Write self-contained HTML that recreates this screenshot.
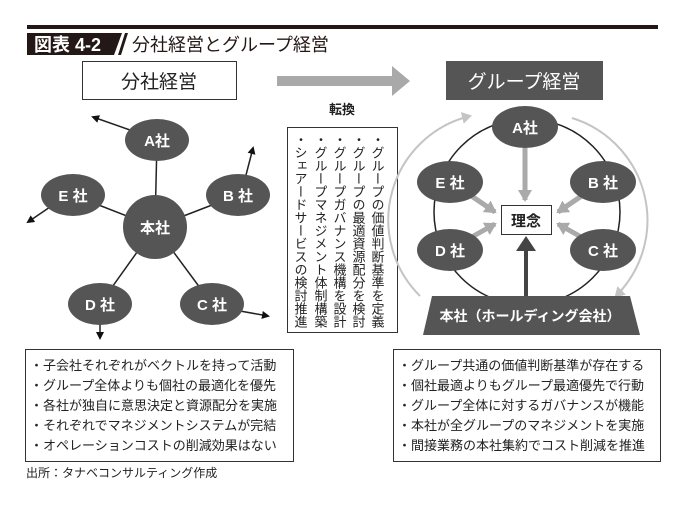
<!DOCTYPE html>
<html><head><meta charset="utf-8"><style>
html,body{margin:0;padding:0;background:#fff}
svg{display:block}
text{font-family:"Liberation Sans","Noto Sans CJK JP",sans-serif}
</style></head><body>
<svg width="685" height="506" viewBox="0 0 685 506" xmlns="http://www.w3.org/2000/svg">
<defs>
<marker id="ab" markerWidth="8" markerHeight="8" refX="6" refY="4" orient="auto" markerUnits="userSpaceOnUse"><path d="M0,0 L8,4 L0,8 Z" fill="#111"/></marker>
<marker id="ag" markerWidth="14" markerHeight="14" refX="10" refY="7" orient="auto" markerUnits="userSpaceOnUse"><path d="M0,0 L12,7 L0,14 Z" fill="#aaa"/></marker>
<marker id="agl" markerWidth="12" markerHeight="12" refX="8" refY="6" orient="auto" markerUnits="userSpaceOnUse"><path d="M0,0 L10,6 L0,12 Z" fill="#c4c4c4"/></marker>
</defs>
<rect x="27" y="25" width="631" height="4" fill="#231815"/>
<path d="M27,33 H122 L114,55 H27 Z" fill="#231815"/>
<text x="34" y="51" font-size="18" font-weight="bold" fill="#fff">図表 4-2</text>
<path d="M118,55 L125,33 H128 L121,55 Z" fill="#231815"/>
<text x="132" y="51" font-size="18" fill="#231815">分社経営とグループ経営</text>
<rect x="82.5" y="61.5" width="154" height="38" fill="#fff" stroke="#333"/>
<text x="159" y="88" font-size="19" text-anchor="middle" fill="#222">分社経営</text>
<rect x="446" y="61" width="157" height="39" fill="#555"/>
<text x="524" y="88" font-size="19" text-anchor="middle" fill="#fff">グループ経営</text>
<path d="M277,76 H392 V66 L410,81 L392,96 V86 H277 Z" fill="#a9a9a9"/>
<text x="342" y="114" font-size="13" font-weight="bold" text-anchor="middle" fill="#222">転換</text>
<rect x="287.5" y="127.5" width="110" height="205" fill="#fff" stroke="#333"/>
<g font-size="13" fill="#222" style="writing-mode:vertical-rl">
<text x="377" y="133">・グループの価値判断基準を定義</text>
<text x="358" y="133">・グループの最適資源配分を検討</text>
<text x="339" y="133">・グループガバナンス機構を設計</text>
<text x="320" y="133">・グループマネジメント体制構築</text>
<text x="300" y="133">・シェアードサービスの検討推進</text>
</g>
<g stroke="#222" stroke-width="1.5">
<line x1="155" y1="227" x2="157" y2="140"/>
<line x1="155" y1="227" x2="238" y2="195"/>
<line x1="155" y1="227" x2="73" y2="195"/>
<line x1="155" y1="227" x2="100" y2="304"/>
<line x1="155" y1="227" x2="212" y2="304"/>
<line x1="130" y1="130" x2="93" y2="117" marker-end="url(#ab)"/>
<line x1="246" y1="175" x2="253" y2="148" marker-end="url(#ab)"/>
<line x1="50" y1="207" x2="28" y2="222" marker-end="url(#ab)"/>
<line x1="100" y1="322" x2="100" y2="338" marker-end="url(#ab)"/>
<line x1="240" y1="311" x2="268" y2="316" marker-end="url(#ab)"/>
</g>
<g fill="#555">
<ellipse cx="157" cy="140" rx="32" ry="21"/>
<ellipse cx="238" cy="195" rx="32" ry="21"/>
<ellipse cx="73" cy="195" rx="32" ry="21"/>
<ellipse cx="100" cy="304" rx="32" ry="21"/>
<ellipse cx="212" cy="304" rx="32" ry="21"/>
<circle cx="155" cy="227" r="32"/>
</g>
<g font-size="15" font-weight="bold" fill="#fff" text-anchor="middle">
<text x="157" y="146">A社</text>
<text x="238" y="201">B 社</text>
<text x="73" y="201">E 社</text>
<text x="100" y="310">D 社</text>
<text x="212" y="310">C 社</text>
<text x="155" y="233">本社</text>
</g>
<path d="M420,296 A107,107 0 0 1 470,116" fill="none" stroke="#c4c4c4" stroke-width="2" marker-end="url(#agl)"/>
<path d="M572,118 A107,107 0 0 1 616,296" fill="none" stroke="#c4c4c4" stroke-width="2" marker-end="url(#agl)"/>
<circle cx="527" cy="212" r="93" fill="none" stroke="#222" stroke-width="1.5"/>
<g stroke="#aaa" stroke-width="5">
<line x1="525" y1="148" x2="525" y2="200" marker-end="url(#ag)"/>
<line x1="470" y1="195" x2="495" y2="212" marker-end="url(#ag)"/>
<line x1="583" y1="195" x2="558" y2="212" marker-end="url(#ag)"/>
<line x1="470" y1="238" x2="495" y2="224" marker-end="url(#ag)"/>
<line x1="583" y1="238" x2="558" y2="224" marker-end="url(#ag)"/>
</g>
<line x1="526" y1="300" x2="526" y2="250" stroke="#444" stroke-width="4"/>
<path d="M516,251 L526,236 L536,251 Z" fill="#444"/>
<rect x="501.5" y="205.5" width="50" height="29" fill="#fff" stroke="#333"/>
<text x="526" y="226" font-size="15" font-weight="bold" text-anchor="middle" fill="#222">理念</text>
<g fill="#555">
<ellipse cx="525" cy="127" rx="33" ry="21"/>
<ellipse cx="450" cy="182" rx="33" ry="21"/>
<ellipse cx="603" cy="182" rx="33" ry="21"/>
<ellipse cx="450" cy="250" rx="33" ry="21"/>
<ellipse cx="603" cy="250" rx="33" ry="21"/>
</g>
<g font-size="15" font-weight="bold" fill="#fff" text-anchor="middle">
<text x="525" y="133">A社</text>
<text x="450" y="188">E 社</text>
<text x="603" y="188">B 社</text>
<text x="450" y="256">D 社</text>
<text x="603" y="256">C 社</text>
</g>
<path d="M432,296 H630 L640,335 H423 Z" fill="#555"/>
<text x="530" y="321" font-size="14" font-weight="bold" text-anchor="middle" fill="#fff">本社（ホールディング会社）</text>
<rect x="25.5" y="349.5" width="268" height="112" fill="#fff" stroke="#333"/>
<g font-size="13" fill="#222">
<text x="30" y="370">・子会社それぞれがベクトルを持って活動</text>
<text x="30" y="390">・グループ全体よりも個社の最適化を優先</text>
<text x="30" y="410">・各社が独自に意思決定と資源配分を実施</text>
<text x="30" y="430">・それぞれでマネジメントシステムが完結</text>
<text x="30" y="450">・オペレーションコストの削減効果はない</text>
</g>
<rect x="393.5" y="349.5" width="267" height="112" fill="#fff" stroke="#333"/>
<g font-size="13" fill="#222">
<text x="398" y="370">・グループ共通の価値判断基準が存在する</text>
<text x="398" y="390">・個社最適よりもグループ最適優先で行動</text>
<text x="398" y="410">・グループ全体に対するガバナンスが機能</text>
<text x="398" y="430">・本社が全グループのマネジメントを実施</text>
<text x="398" y="450">・間接業務の本社集約でコスト削減を推進</text>
</g>
<text x="26" y="477" font-size="12" fill="#222">出所：タナベコンサルティング作成</text>
</svg>
</body></html>
